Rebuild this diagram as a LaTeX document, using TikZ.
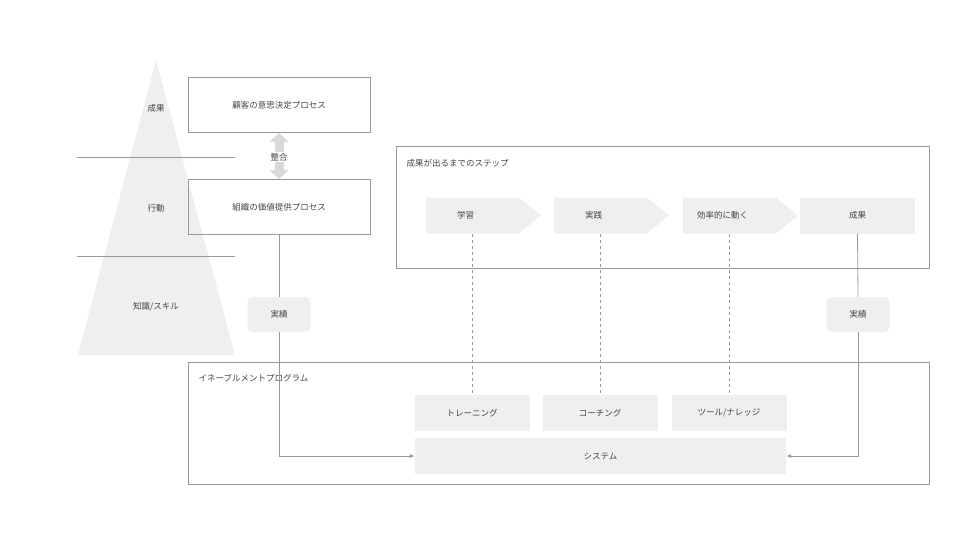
\documentclass[tikz,border=0pt]{standalone}
\usepackage{fontspec}
\setmainfont{Noto Sans CJK JP}
\usetikzlibrary{arrows.meta,shapes.symbols}

\definecolor{boxfill}{HTML}{EFEFEF}
\definecolor{linegray}{HTML}{999999}
\definecolor{txtgray}{HTML}{444444}

\tikzset{
    lbl/.style={font=\fontsize{8.5}{10}\selectfont, text=txtgray},
    frame/.style={draw=linegray, line width=0.8pt},
    whitebox/.style={frame, lbl, minimum width=182pt, minimum height=55pt, inner sep=0pt},
    stepbox/.style={lbl, fill=boxfill, shape=signal, signal to=east, signal pointer angle=78, minimum width=115pt, minimum height=36pt, inner sep=0pt},
    tool/.style={lbl, fill=boxfill, minimum width=115pt, minimum height=36pt, inner sep=0pt},
    result/.style={lbl, fill=boxfill, rounded corners=5pt, minimum width=63pt, minimum height=35pt, inner sep=0pt},
    conn/.style={draw=linegray, line width=0.8pt},
}

\begin{document}
\begin{tikzpicture}[x=1pt, y=-1pt]
    \useasboundingbox (0,0) rectangle (960,540);

    % Pyramid
    \fill[boxfill] (156,60) -- (235,355) -- (78,355) -- cycle;
    \draw[conn] (77,157) -- (235,157);
    \draw[conn] (77,256) -- (235,256);
    \node[lbl] (lvlA) at (156,108) {成果};
    \node[lbl] (lvlB) at (156,208) {行動};
    \node[lbl] (lvlC) at (156,307) {知識/スキル};

    % Processes
    \node[whitebox] (customer) at (279,105) {顧客の意思決定プロセス};
    \node[whitebox] (org) at (279,207) {組織の価値提供プロセス};
    \draw[line width=9pt, draw=boxfill!80!gray, {Triangle[length=9pt,width=18pt]}-{Triangle[length=9pt,width=18pt]}]
        (customer.south) -- (org.north);
    \node[lbl, fill=white, inner sep=1pt] (align) at (279,157) {整合};

    % Steps frame
    \draw[frame] (396,146) rectangle (929,268);
    \node[lbl, anchor=west] (stepsTitle) at (403,163) {成果が出るまでのステップ};
    \node[stepbox] (learn) at (472.5,215.5) {\hspace*{-14pt}学習};
    \node[stepbox] (practice) at (600.5,215.5) {\hspace*{-14pt}実践};
    \node[stepbox] (efficient) at (729.5,215.5) {\hspace*{-14pt}効率的に動く};
    \node[tool] (outcome) at (857.5,215.5) {成果};

    % Program frame
    \draw[frame] (188,362) rectangle (929,484);
    \node[lbl, anchor=west] (progTitle) at (195,378) {イネーブルメントプログラム};
    \node[tool] (training) at (472,413) {トレーニング};
    \node[tool] (coaching) at (600,413) {コーチング};
    \node[tool] (knowledge) at (729,413) {ツール/ナレッジ};
    \node[tool, minimum width=371pt] (system) at (600.5,456) {システム};

    % Dashed links
    \draw[conn, dashed] (472,234) -- (training.north);
    \draw[conn, dashed] (600,234) -- (coaching.north);
    \draw[conn, dashed] (729,234) -- (knowledge.north);

    % Track records
    \node[result] (recL) at (279,314.5) {実績};
    \node[result] (recR) at (858,314.5) {実績};
    \draw[conn] (org.south) -- (recL.north);
    \draw[conn, -{Latex[length=5pt,width=4pt]}] (recL.south) |- (system.west);
    \draw[conn] (outcome.south) -- (recR.north);
    \draw[conn, -{Latex[length=5pt,width=4pt]}] (recR.south) |- (system.east);
\end{tikzpicture}
\end{document}
